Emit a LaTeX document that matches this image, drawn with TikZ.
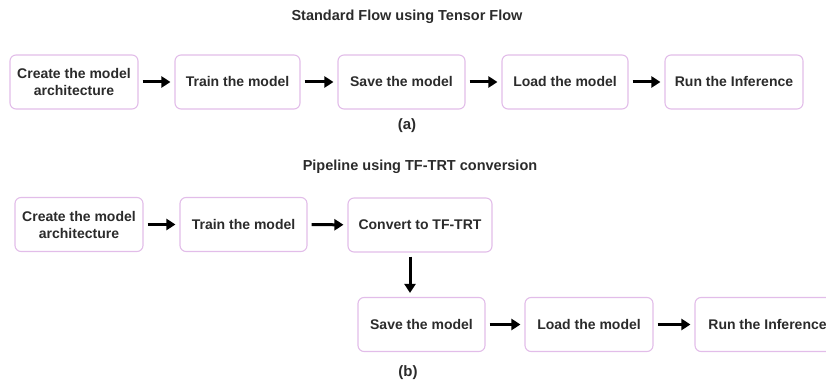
\documentclass[tikz,border=0pt]{standalone}
\usepackage{fontspec}
\setmainfont{Liberation Sans}
\usetikzlibrary{arrows.meta, positioning}
\definecolor{boxline}{HTML}{E2BDE9}
\definecolor{txtgray}{HTML}{2B2B2B}

\begin{document}
\begin{tikzpicture}[x=1pt, y=1pt,
  stagebox/.style={draw=boxline, line width=1.1pt, rounded corners=6pt,
    fill=white, minimum height=54pt, align=center, inner sep=2pt,
    font=\fontsize{14}{17}\selectfont\bfseries, text=txtgray},
  flow/.style={line width=3pt, -{Triangle[length=9pt, width=11pt]},
    shorten <=4pt, shorten >=4pt},
  caption/.style={font=\fontsize{14.5}{17}\selectfont\bfseries, text=txtgray}]
  \useasboundingbox (0,0) rectangle (826,385);
  % (a) standard flow
  \node[caption] (titleA) at (407,368) {Standard Flow using Tensor Flow};
  \node[stagebox, minimum width=128pt] (a1) at (74,303)    {Create the model\\architecture};
  \node[stagebox, minimum width=125pt] (a2) at (237.5,303) {Train the model};
  \node[stagebox, minimum width=127pt] (a3) at (401.5,303) {Save the model};
  \node[stagebox, minimum width=126pt] (a4) at (565,303)   {Load the model};
  \node[stagebox, minimum width=138pt] (a5) at (734,303)   {Run the Inference};
  \foreach \u/\v in {a1/a2, a2/a3, a3/a4, a4/a5}
    \draw[flow] (\u) -- (\v);
  \node[caption, font=\fontsize{15}{17}\selectfont\bfseries] (capA) at (407,259) {(a)};
  % (b) TF-TRT pipeline
  \node[caption] (titleB) at (420,218) {Pipeline using TF-TRT conversion};
  \node[stagebox, minimum width=128pt] (b1) at (79,160.5)    {Create the model\\architecture};
  \node[stagebox, minimum width=127pt] (b2) at (243.5,160.5) {Train the model};
  \node[stagebox, minimum width=144pt] (b3) at (420,160)     {Convert to TF-TRT};
  \node[stagebox, minimum width=127pt] (b4) at (421.5,60.5)  {Save the model};
  \node[stagebox, minimum width=128pt] (b5) at (589,60.5)    {Load the model};
  \node[stagebox, minimum width=145pt] (b6) at (767.5,60.5)  {Run the Inference};
  \foreach \u/\v in {b1/b2, b2/b3, b4/b5, b5/b6}
    \draw[flow] (\u) -- (\v);
  \draw[flow] ([xshift=-10pt]b3.south) -- ([xshift=-10pt]b3.south |- b4.north);
  \node[caption, font=\fontsize{15}{17}\selectfont\bfseries] (capB) at (408,12) {(b)};
\end{tikzpicture}
\end{document}
